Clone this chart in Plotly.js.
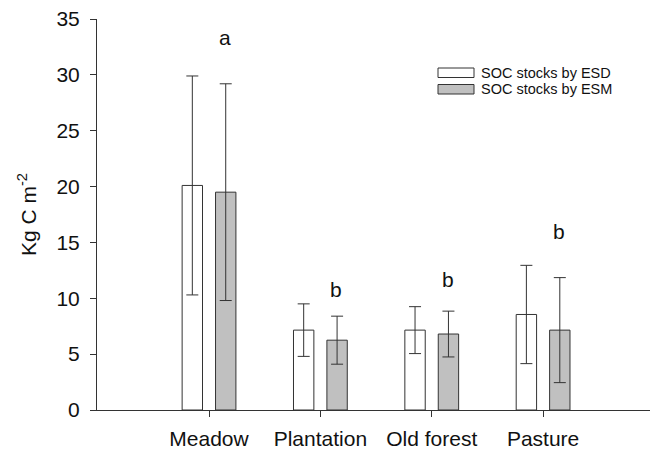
<!DOCTYPE html>
<html>
<head>
<meta charset="utf-8">
<script src="https://cdn.plot.ly/plotly-3.0.1.min.js"></script>
<style>html,body{margin:0;padding:0;background:#fff}#chart{width:653px;height:453px}</style>
</head>
<body>
<div id="chart"></div>
<script>
var categories = ['Meadow', 'Plantation', 'Old forest', 'Pasture'];
var esdValues = [20.1, 7.15, 7.15, 8.55];
var esdErrors = [9.8, 2.35, 2.1, 4.4];
var esmValues = [19.5, 6.25, 6.8, 7.15];
var esmErrors = [9.7, 2.15, 2.05, 4.7];
var seriesNames = ['SOC stocks by ESD', 'SOC stocks by ESM'];
var letters = ['a', 'b', 'b', 'b'];
var letterY = [33.3, 10.8, 11.7, 16.0];
var yTicks = [0, 5, 10, 15, 20, 25, 30, 35];

var FONT = 'Liberation Sans, Arial, sans-serif';
var idx = categories.map(function(c, i){ return i; });

var traces = [
  {type:'bar', name:seriesNames[0], x:idx, y:esdValues,
   marker:{color:'#ffffff', line:{color:'#333333', width:1}},
   error_y:{type:'data', array:esdErrors, visible:true, color:'#333333', thickness:1, width:6},
   showlegend:false},
  {type:'bar', name:seriesNames[1], x:idx, y:esmValues,
   marker:{color:'#c0c0c0', line:{color:'#333333', width:1}},
   error_y:{type:'data', array:esmErrors, visible:true, color:'#333333', thickness:1, width:6},
   showlegend:false}
];

var L = 97, T = 19, W = 553, H = 391;
var annotations = letters.map(function(t, i){
  return {x:idx[i], y:letterY[i], xref:'x', yref:'y', text:t, showarrow:false,
          xshift:16, font:{family:FONT, size:21, color:'#111'}};
});
// custom legend (wide swatches like the reference)
var shapes = [];
var rowGap = 16.5;
seriesNames.forEach(function(n, i){
  var fill = i === 0 ? '#ffffff' : '#c0c0c0';
  shapes.push({type:'rect', xref:'paper', yref:'paper',
    x0:(438-L)/W, x1:(474-L)/W,
    y0:1-((68+i*rowGap)-T)/H, y1:1-((77.5+i*rowGap)-T)/H,
    fillcolor:fill, line:{color:'#333333', width:1}});
  annotations.push({xref:'paper', yref:'paper', x:(480-L)/W, y:1-((73+i*rowGap)-T)/H,
    xanchor:'left', yanchor:'middle', text:n, showarrow:false, borderpad:0,
    font:{family:FONT, size:14.5, color:'#111'}});
});

var layout = {
  width:653, height:453,
  margin:{l:L, r:653-L-W, t:T, b:453-T-H},
  paper_bgcolor:'#ffffff', plot_bgcolor:'#ffffff',
  font:{family:FONT, size:21, color:'#111'},
  barmode:'group', bargap:0.4, bargroupgap:0.39,
  showlegend:false,
  xaxis:{range:[-1.006, 3.96], tickmode:'array', tickvals:idx, ticktext:categories,
    showline:true, linecolor:'#333', linewidth:1, ticks:'outside', ticklen:6, tickcolor:'#333',
    ticklabelstandoff:4,
    showgrid:false, zeroline:false, tickfont:{family:FONT, size:21, color:'#111'}},
  yaxis:{range:[0, 35], tickmode:'array', tickvals:yTicks,
    showline:true, linecolor:'#333', linewidth:1, ticks:'outside', ticklen:6, tickcolor:'#333',
    ticklabelstandoff:6,
    showgrid:false, zeroline:false, tickfont:{family:FONT, size:21, color:'#111'},
    title:{text:'Kg C m<sup>-2</sup>', font:{family:FONT, size:21, color:'#111'}, standoff:14}},
  annotations:annotations,
  shapes:shapes
};

Plotly.newPlot('chart', traces, layout, {displayModeBar:false, staticPlot:true});
</script>
</body>
</html>
